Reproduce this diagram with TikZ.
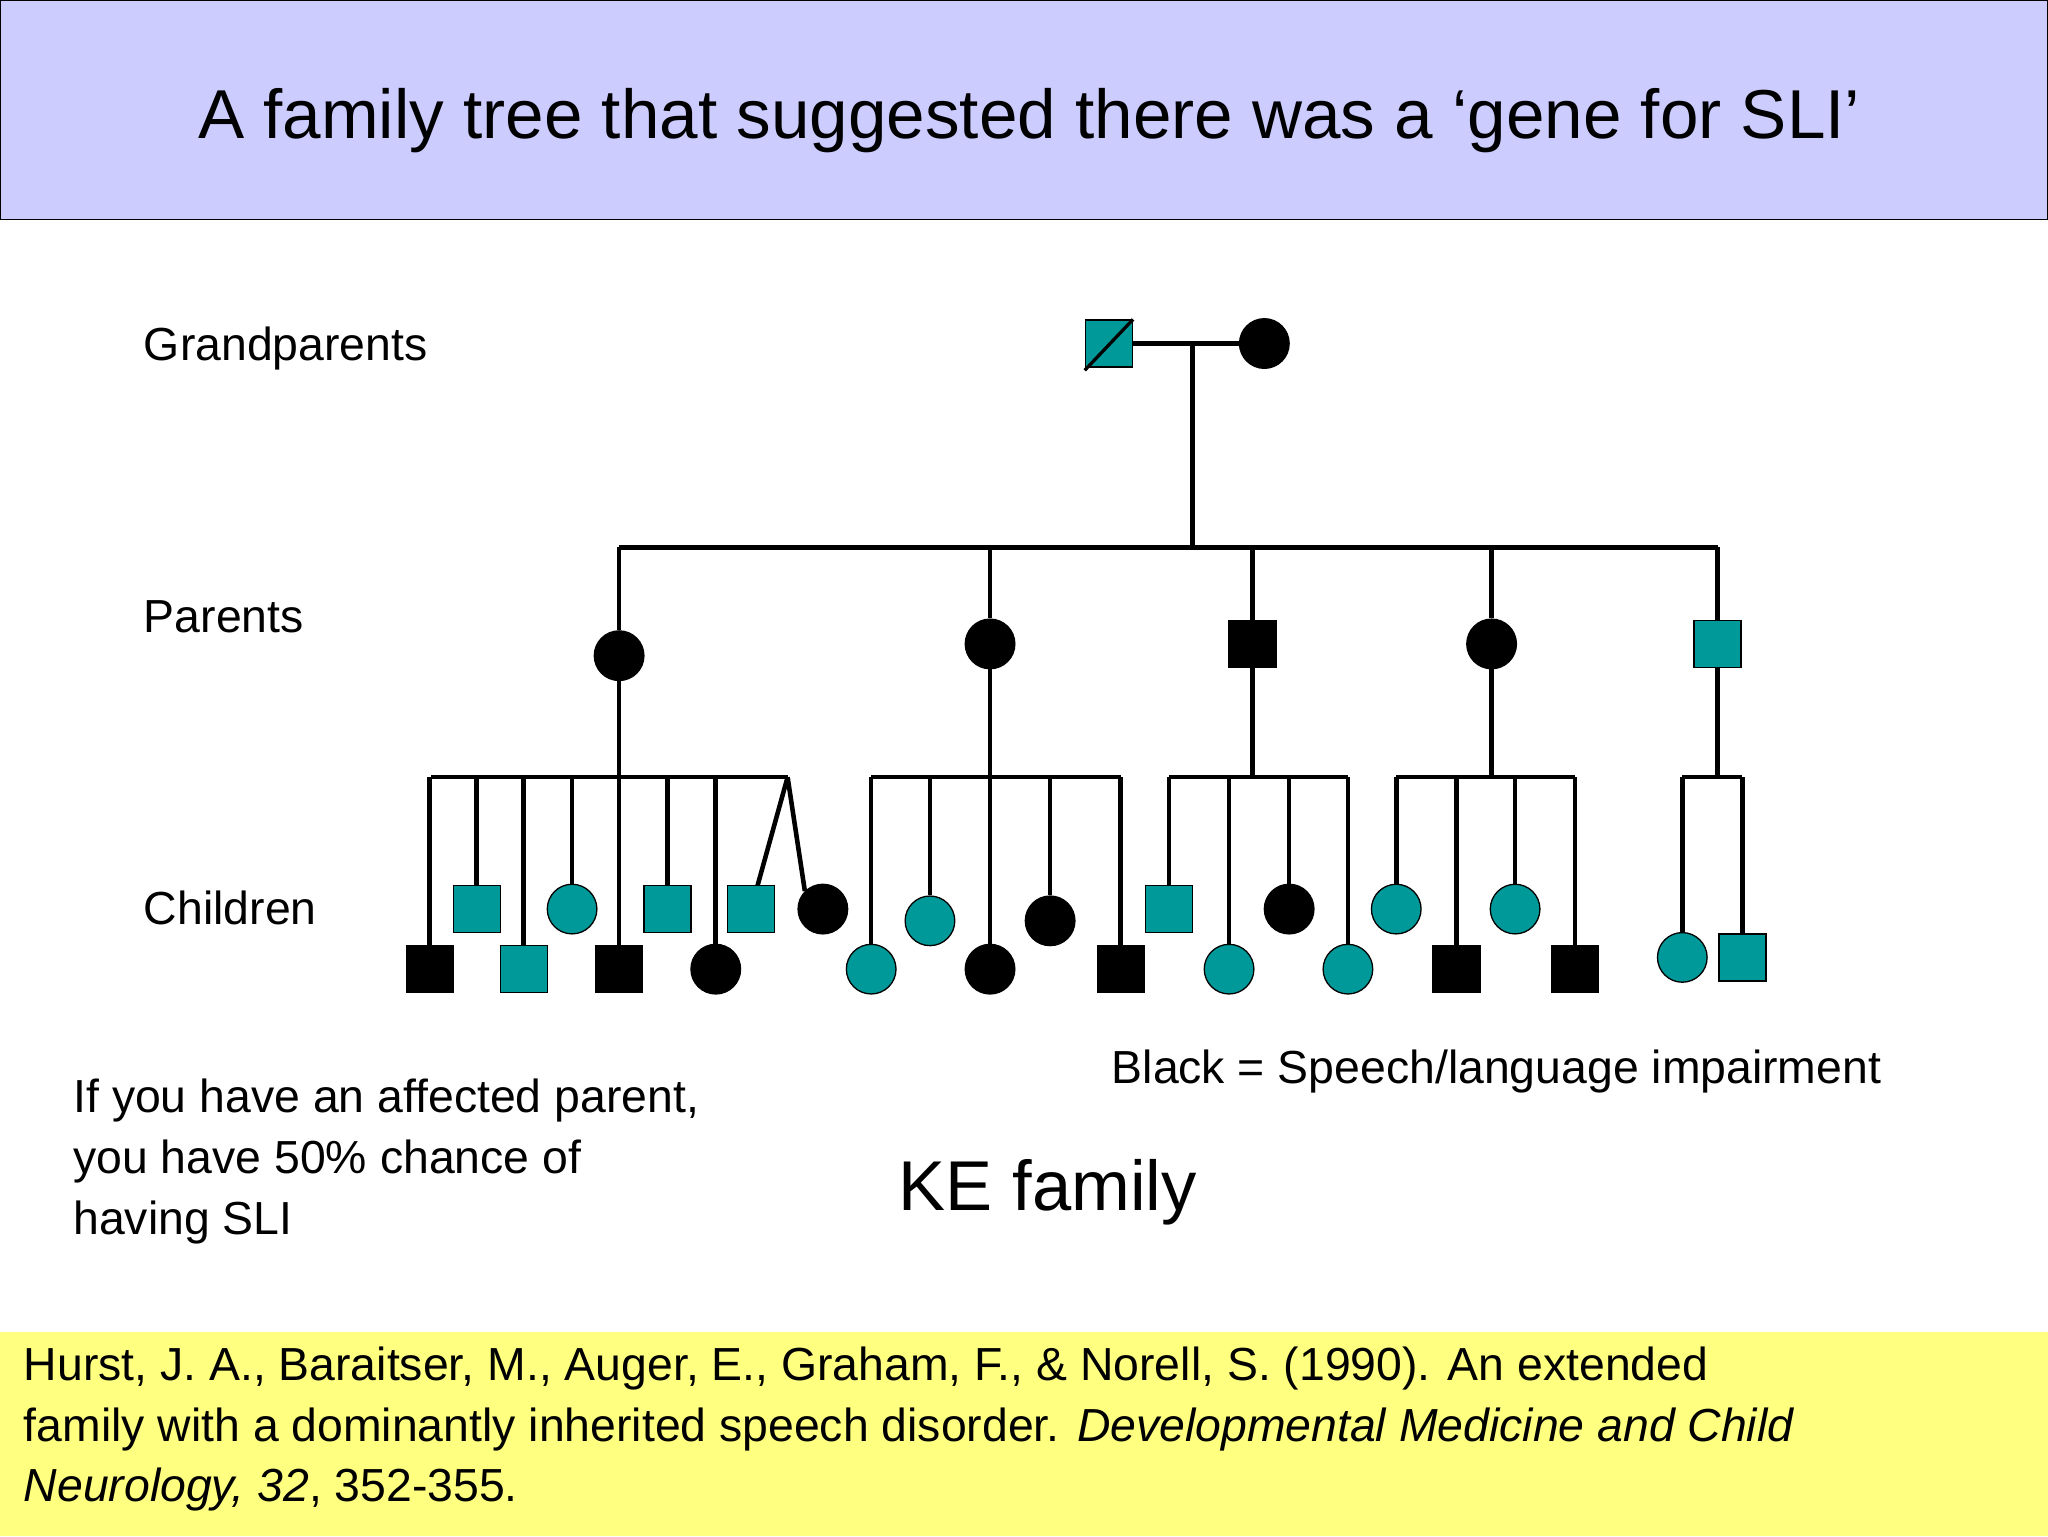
\documentclass[tikz,border=0pt]{standalone}
\usepackage{fontspec}
\setmainfont{Liberation Sans}
\definecolor{teal2}{RGB}{0,153,153}
\definecolor{lav}{RGB}{204,204,255}
\definecolor{yel}{RGB}{255,255,128}
\begin{document}
\begin{tikzpicture}[x=1pt,y=-1pt,
  ln/.style={line width=3.5pt},
  sqb/.style={draw,line width=1pt,minimum size=36pt,inner sep=0pt,fill=black},
  sqt/.style={draw,line width=1pt,minimum size=36pt,inner sep=0pt,fill=teal2},
  cib/.style={draw,circle,line width=1pt,minimum size=38pt,inner sep=0pt,fill=black},
  cit/.style={draw,circle,line width=1pt,minimum size=38pt,inner sep=0pt,fill=teal2},
  lbl/.style={anchor=west,inner sep=0pt,font=\fontsize{35.5}{43}\selectfont}]
\useasboundingbox (0,0) rectangle (1568,1176);
\fill[white] (0,0) rectangle (1568,1176);
\draw[fill=lav,line width=1pt] (0,0) rectangle (1568,168);
\fill[yel] (0,1020) rectangle (1568,1176);
\node[inner sep=0pt,font=\fontsize{53}{60}\selectfont] (title) at (788,92) {A family tree that suggested there was a ‘gene for SLI’};
\node[lbl] (lg) at (110,267) {Grandparents};
\node[lbl] (lp) at (110,472) {Parents};
\node[lbl] (lc) at (110,695) {Children};
\node[lbl] (lb) at (851,820) {Black = Speech/language impairment};
\node[lbl,align=left,anchor=north west,font=\fontsize{35.5}{46.5}\selectfont] (ifp) at (56,826) {If you have an affected parent,\\you have 50\% chance of\\having SLI};
\node[lbl,font=\fontsize{54}{60}\selectfont] (ke) at (688,913) {KE family};
\node[lbl,align=left,anchor=north west,font=\fontsize{35.5}{46.5}\selectfont] (ref) at (18,1031) {Hurst, J. A., Baraitser, M., Auger, E., Graham, F., \& Norell, S. (1990). An extended\\family with a dominantly inherited speech disorder. \textit{Developmental Medicine and Child}\\\textit{Neurology, 32}, 352-355.};
% grandparents
\node[sqt] (gf) at (849,263) {};
\node[cib] (gm) at (968,263) {};
\draw[line width=2.5pt] (gf.south west) ++(0,2) -- ([shift={(0,0)}]gf.north east);
\coordinate (gmid) at (913,263);
\draw[ln] (gf.east) -- (gm.west);
\coordinate (pbar) at (913,419);
\draw[ln] (gmid) -- (pbar);
\draw[ln] (474,419) coordinate (pL) -- (1315,419) coordinate (pR);
% parents
\node[cib] (p1) at (474,502) {};
\node[cib] (p2) at (758,493) {};
\node[sqb] (p3) at (959,493) {};
\node[cib] (p4) at (1142,493) {};
\node[sqt] (p5) at (1315,493) {};
\foreach \n/\x in {p1/474,p2/758,p3/959,p4/1142,p5/1315}{
  \draw[ln] (\x,419) -- (\n.north);
  \draw[ln] (\n.south) -- (\x,595);
}
% sibling bars
\draw[ln] (330,595) coordinate (b1L) -- (603,595) coordinate (b1R);
\draw[ln] (667,595) -- (858,595);
\draw[ln] (895,595) -- (1032,595);
\draw[ln] (1069,595) -- (1206,595);
\draw[ln] (1288,595) -- (1334,595);
% children
\foreach \n/\s/\x/\y in {
 c1/sqb/329/742, c2/sqt/365/696, c3/sqt/401/742, c4/cit/438/696, c5/sqb/474/742,
 c6/sqt/511/696, c7/cib/548/742,
 c10/cit/667/742, c11/cit/712/705, c12/cib/758/742, c13/cib/804/705, c14/sqb/858/742,
 c15/sqt/895/696, c16/cit/941/742, c17/cib/987/696, c18/cit/1032/742,
 c19/cit/1069/696, c20/sqb/1115/742, c21/cit/1160/696, c22/sqb/1206/742,
 c23/cit/1288/733, c24/sqt/1334/733}{
  \node[\s] (\n) at (\x,\y) {};
  \draw[ln] (\x,595) -- (\n.north);
}
\node[sqt] (c8) at (575,696) {};
\node[cib] (c9) at (630,696) {};
\draw[ln] (b1R) -- (580,678);
\draw[ln] (b1R) -- (c9.north west);
\end{tikzpicture}
\end{document}
